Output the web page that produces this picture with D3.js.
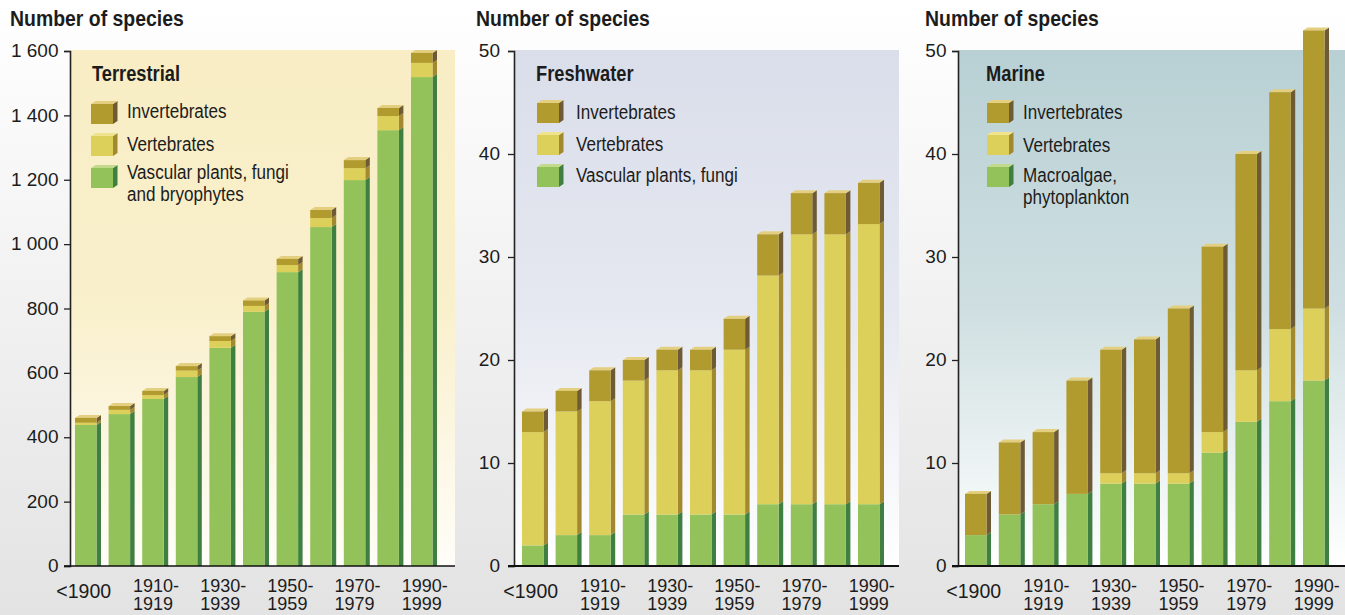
<!DOCTYPE html>
<html>
<head>
<meta charset="utf-8">
<script src="https://cdn.jsdelivr.net/npm/d3@7"></script>
<style>
  html, body { margin: 0; padding: 0; background: #fff; overflow: hidden; }
  text { fill: #1c1c1c; }
</style>
</head>
<body>
<div id="chart"></div>
<script>
const categories = ["<1900", "1900-1909", "1910-1919", "1920-1929", "1930-1939", "1940-1949",
    "1950-1959", "1960-1969", "1970-1979", "1980-1989", "1990-1999"];
const tickLabels = ["<1900", "1910-1919", "1930-1939", "1950-1959", "1970-1979", "1990-1999"];

const terrestrialPlants = [438, 472, 519, 587, 678, 790, 913, 1053, 1199, 1354, 1519];
const terrestrialVertebrates = [7, 13, 12, 20, 21, 18, 22, 28, 37, 44, 44];
const terrestrialInvertebrates = [15, 12, 13, 14, 15, 17, 19, 25, 25, 25, 31];

const freshwaterPlants = [2, 3, 3, 5, 5, 5, 5, 6, 6, 6, 6];
const freshwaterVertebrates = [11, 12, 13, 13, 14, 14, 16, 22.2, 26.2, 26.2, 27.2];
const freshwaterInvertebrates = [2, 2, 3, 2, 2, 2, 3, 4, 4, 4, 4];

const marinePlants = [3, 5, 6, 7, 8, 8, 8, 11, 14, 16, 18];
const marineVertebrates = [0, 0, 0, 0, 1, 1, 1, 2, 5, 7, 7];
const marineInvertebrates = [4, 7, 7, 11, 12, 13, 16, 18, 21, 23, 27];

const WIDTH = 1345, HEIGHT = 615;
const TOP = 51, BASE = 566;
const DX = 4.5, DY = 3;
const FONT = "'Liberation Sans', sans-serif";

const colors = {
    plants: { front: "#93c25b", side: "#3f7f42", top: "#c3d98c" },
    vertebrates: { front: "#dccf5a", side: "#a2882f", top: "#efe38f" },
    invertebrates: { front: "#b29b2e", side: "#6e5a35", top: "#e3cf7f" }
};
const keys = ["plants", "vertebrates", "invertebrates"];
const spaced = d3.formatLocale({ decimal: ".", thousands: " ", grouping: [3], currency: ["", ""] }).format(",");

const svg = d3.select("#chart").append("svg")
    .attr("width", WIDTH)
    .attr("height", HEIGHT)
    .style("display", "block");

const defs = svg.append("defs");

function addGradient(id, stops) {
    const g = defs.append("linearGradient").attr("id", id)
        .attr("x1", 0).attr("y1", 0).attr("x2", 0).attr("y2", 1);
    stops.forEach((s, i) => {
        g.append("stop").attr("offset", i / (stops.length - 1)).attr("stop-color", s);
    });
}

addGradient("page", ["#ffffff", "#e3e3e3"]);
svg.append("rect").attr("width", WIDTH).attr("height", HEIGHT).attr("fill", "url(#page)");

// the original type is condensed, so squeeze the installed sans to fit
function squeeze(sel, factor) {
    sel.attr("lengthAdjust", "spacingAndGlyphs")
        .attr("textLength", sel.node().getComputedTextLength() * factor);
    return sel;
}

// one 3D block: front rect, side and optional lid
function block(g, x, y0, y1, w, c, lid, flatBase) {
    g.append("path")
        .attr("d", `M${x + w},${y0}L${x + w + DX},${flatBase ? y0 : y0 - DY}L${x + w + DX},${y1 - DY}L${x + w},${y1}Z`)
        .attr("fill", c.side);
    if (lid) {
        g.append("path")
            .attr("d", `M${x},${y1}L${x + DX},${y1 - DY}L${x + w + DX},${y1 - DY}L${x + w},${y1}Z`)
            .attr("fill", c.top);
    }
    g.append("rect")
        .attr("x", x).attr("y", y1)
        .attr("width", w).attr("height", y0 - y1)
        .attr("fill", c.front);
}

function drawPanel({ id, plants, vertebrates, invertebrates, yMax, yTicks, axisX, panelRight, tickPad,
    firstBar, lastBar, heading, titleX, labelX, swatchX, textX, bg, legend, axisWeight }) {

    addGradient(id, bg);
    const g = svg.append("g");

    g.append("rect")
        .attr("x", axisX).attr("y", TOP - 1)
        .attr("width", panelRight - axisX).attr("height", BASE - TOP + 1)
        .attr("fill", `url(#${id})`);

    const barW = 21.5;
    const x = d3.scaleBand()
        .domain(categories)
        .range([firstBar, lastBar + barW])
        .paddingInner(1 - barW / ((lastBar - firstBar) / 10))
        .paddingOuter(0);
    const y = d3.scaleLinear().domain([0, yMax]).range([BASE, TOP]);

    const rows = categories.map((c, i) => ({
        category: c, plants: plants[i], vertebrates: vertebrates[i], invertebrates: invertebrates[i]
    }));
    const series = d3.stack().keys(keys)(rows);

    series.forEach((s, k) => {
        const isLast = k === series.length - 1;
        s.forEach(d => {
            block(g, x(d.data.category), y(d[0]), y(d[1]), x.bandwidth(), colors[s.key], isLast, k === 0);
        });
    });

    // Axes
    const yAxis = g.append("g")
        .attr("transform", `translate(${axisX},0)`)
        .call(d3.axisLeft(y).tickValues(yTicks).tickSize(6).tickPadding(tickPad).tickFormat(spaced));
    yAxis.select(".domain").attr("stroke", "#222").attr("stroke-width", 1.6);
    yAxis.selectAll(".tick line").attr("stroke", "#222").attr("stroke-width", 1.3);
    yAxis.selectAll("text")
        .style("font-family", FONT)
        .style("font-size", "19px")
        .attr("fill", "#1c1c1c")
        .attr("dy", "0.3em");

    g.append("line")
        .attr("x1", axisX - 6).attr("x2", panelRight)
        .attr("y1", BASE).attr("y2", BASE)
        .attr("stroke", "#111").attr("stroke-width", axisWeight);

    const xAxis = g.append("g")
        .attr("transform", `translate(0,${BASE})`)
        .call(d3.axisBottom(x).tickValues(tickLabels).tickSize(0).tickFormat(""));
    xAxis.select(".domain").remove();

    xAxis.selectAll(".tick").each(function (d) {
        const tick = d3.select(this);
        const parts = d.split("-");
        const label = tick.append("text")
            .style("font-family", FONT)
            .style("font-size", "18px")
            .attr("fill", "#1c1c1c");
        if (parts.length === 1) {
            label.attr("text-anchor", "middle").attr("x", -2).attr("y", 32)
                .style("font-size", "19.5px").text(d);
        } else {
            label.attr("text-anchor", "start");
            label.append("tspan").attr("x", -20).attr("y", 26).text(parts[0] + "-");
            label.append("tspan").attr("x", -20).attr("y", 44).text(parts[1]);
        }
    });

    // Titles
    g.append("text").attr("x", labelX).attr("y", 26)
        .style("font-family", FONT).style("font-weight", 700).style("font-size", "22px")
        .attr("fill", "#000")
        .text("Number of species")
        .call(squeeze, 0.883);
    g.append("text").attr("x", titleX).attr("y", 80.5)
        .style("font-family", FONT).style("font-weight", 700).style("font-size", "21.5px")
        .attr("fill", "#000")
        .text(heading)
        .call(squeeze, 0.85);

    // Legend
    legend.forEach(item => {
        block(g, swatchX, item.y + 20, item.y, 22, colors[item.key], true, false);
        item.lines.forEach((line, i) => {
            g.append("text")
                .attr("x", textX).attr("y", item.baseline + i * 22)
                .style("font-family", FONT).style("font-size", "19.5px")
                .attr("fill", "#222")
                .text(line)
                .call(squeeze, 0.875);
        });
    });
}

drawPanel({
    id: "terrestrial",
    plants: terrestrialPlants, vertebrates: terrestrialVertebrates, invertebrates: terrestrialInvertebrates,
    yMax: 1600, yTicks: d3.range(0, 1601, 200),
    axisX: 70, panelRight: 455, tickPad: 5.5, firstBar: 75, lastBar: 411,
    heading: "Terrestrial", titleX: 92, labelX: 10, swatchX: 91, textX: 127,
    bg: ["#f8edc4", "#f9f0cc", "#fffdf8"], axisWeight: 1.5,
    legend: [
        { key: "invertebrates", y: 104, baseline: 118, lines: ["Invertebrates"] },
        { key: "vertebrates", y: 136, baseline: 151, lines: ["Vertebrates"] },
        { key: "plants", y: 168, baseline: 179, lines: ["Vascular plants, fungi", "and bryophytes"] }
    ]
});

drawPanel({
    id: "freshwater",
    plants: freshwaterPlants, vertebrates: freshwaterVertebrates, invertebrates: freshwaterInvertebrates,
    yMax: 50, yTicks: d3.range(0, 51, 10),
    axisX: 514, panelRight: 899, tickPad: 8, firstBar: 522, lastBar: 858,
    heading: "Freshwater", titleX: 536, labelX: 476, swatchX: 537, textX: 576,
    bg: ["#dadeea", "#e5e8f0", "#ffffff"], axisWeight: 2,
    legend: [
        { key: "invertebrates", y: 103, baseline: 119, lines: ["Invertebrates"] },
        { key: "vertebrates", y: 135, baseline: 151, lines: ["Vertebrates"] },
        { key: "plants", y: 167, baseline: 182, lines: ["Vascular plants, fungi"] }
    ]
});

drawPanel({
    id: "marine",
    plants: marinePlants, vertebrates: marineVertebrates, invertebrates: marineInvertebrates,
    yMax: 50, yTicks: d3.range(0, 51, 10),
    axisX: 958, panelRight: 1345, tickPad: 5.5, firstBar: 965, lastBar: 1303,
    heading: "Marine", titleX: 986, labelX: 925, swatchX: 987, textX: 1023,
    bg: ["#b8d0d4", "#cfdfe1", "#ffffff"], axisWeight: 2,
    legend: [
        { key: "invertebrates", y: 103, baseline: 119, lines: ["Invertebrates"] },
        { key: "vertebrates", y: 135, baseline: 152, lines: ["Vertebrates"] },
        { key: "plants", y: 167, baseline: 182, lines: ["Macroalgae,", "phytoplankton"] }
    ]
});
</script>
</body>
</html>
